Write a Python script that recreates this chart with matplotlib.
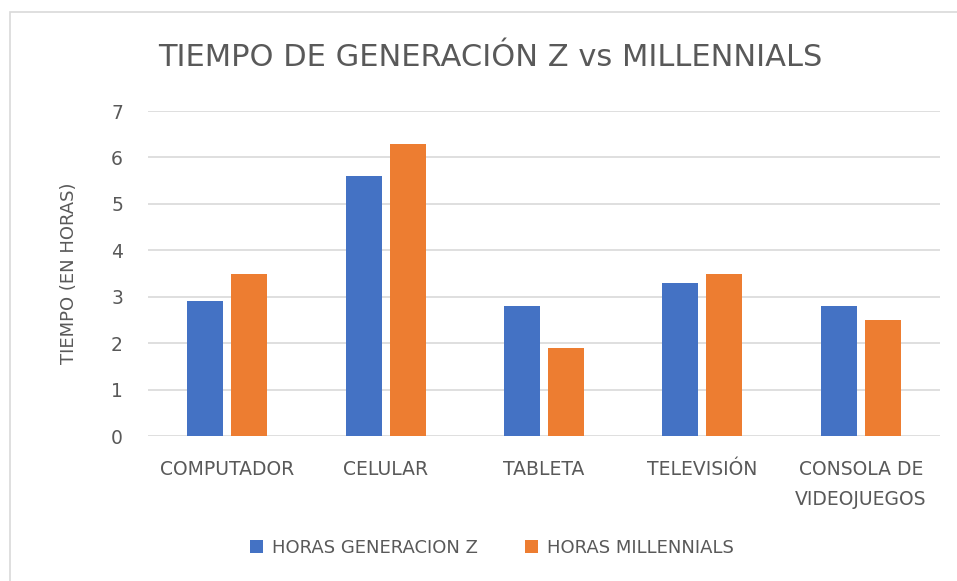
import matplotlib.pyplot as plt
import numpy as np
from matplotlib.patches import Rectangle

categorias = ['COMPUTADOR', 'CELULAR', 'TABLETA', 'TELEVISIÓN', 'CONSOLA DE\nVIDEOJUEGOS']
horas_gen_z = [2.9, 5.6, 2.8, 3.3, 2.8]
horas_millennials = [3.5, 6.3, 1.9, 3.5, 2.5]
series = ['HORAS GENERACION Z', 'HORAS MILLENNIALS']

plt.rcParams['font.family'] = ['DejaVu Sans']
gris = '#595959'

fig = plt.figure(figsize=(9.57, 5.81), dpi=100)
W, H = 957, 581
ax = fig.add_axes([148 / W, 1 - 436 / H, (940 - 148) / W, (436 - 111) / H])

# borde del gráfico (solo se ve arriba e izquierda)
fig.patches.append(Rectangle((10 / W, -0.1), 1.1, 1 - 12 / H + 0.1, transform=fig.transFigure,
                             fill=False, edgecolor='#d9d9d9', linewidth=1.2))

x = np.arange(len(categorias))
ancho = 0.227
ax.bar(x - 0.139, horas_gen_z, ancho, color='#4472c4', label=series[0], zorder=3)
ax.bar(x + 0.139, horas_millennials, ancho, color='#ed7d31', label=series[1], zorder=3)

ax.set_xlim(-0.5, len(categorias) - 0.5)
ax.set_ylim(0, 7)
ax.set_yticks(range(0, 8))
ax.yaxis.grid(True, color='#d9d9d9', linewidth=1.2, zorder=0)
for s in ax.spines.values():
    s.set_visible(False)
ax.tick_params(axis='both', length=0, labelcolor=gris, labelsize=13.5)
ax.tick_params(axis='y', pad=18)
ax.tick_params(axis='x', pad=17)
ax.set_xticks(x)
ax.set_xticklabels(categorias, linespacing=1.75, fontsize=13.5)
ax.set_ylabel('TIEMPO (EN HORAS)', color=gris, fontsize=13, labelpad=24)

fig.text(490 / W, 1 - 57 / H, 'TIEMPO DE GENERACIÓN Z vs MILLENNIALS', ha='center', va='center',
         fontsize=22, color=gris)

fig.legend(loc='center', bbox_to_anchor=(492 / W, 1 - 548 / H), ncol=2, frameon=False,
           fontsize=13, labelcolor=gris, handlelength=0.7, handleheight=0.7,
           handletextpad=0.5, columnspacing=2.6)

fig.savefig('out.png', dpi=100)
